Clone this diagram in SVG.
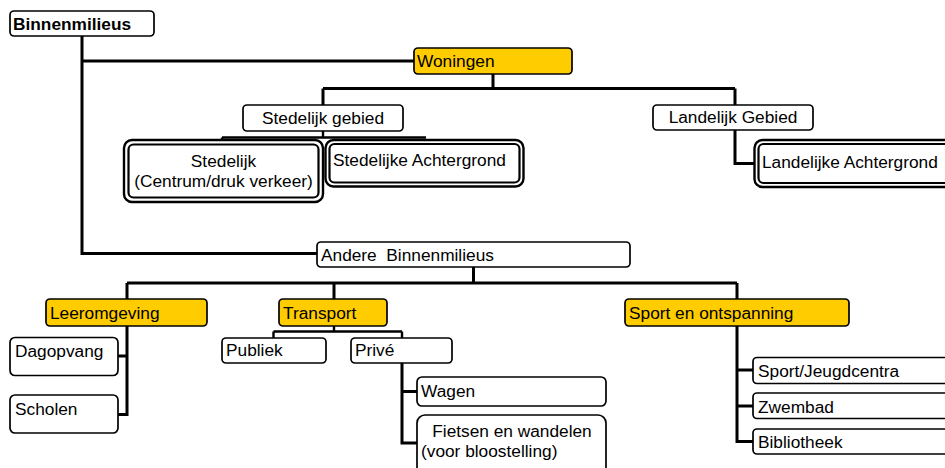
<svg xmlns="http://www.w3.org/2000/svg" width="945" height="468" viewBox="0 0 945 468">
<style>
.b{fill:#fff;stroke:#000;stroke-width:1.7}
.y{fill:#FFCC00;stroke:#000;stroke-width:1.7}
.d{fill:#fff;stroke:#000;stroke-width:2.4}
.di{fill:none;stroke:#000;stroke-width:2.2}
.c{fill:none;stroke:#000;stroke-width:3;stroke-linejoin:miter}
.c2{fill:none;stroke:#000;stroke-width:2.4}
text{font-family:"Liberation Sans",Arial,sans-serif;font-size:17.3px;fill:#000}
.m{text-anchor:middle}
</style>
<rect width="945" height="468" fill="#fff"/>
<g id="connectors">
<path class="c" d="M82 36V253.5H317"/>
<path class="c" d="M82 61H414"/>
<path class="c" d="M493 74V88.5M323 88.5H735M323 88.5V105M735 88.5V105"/>
<path class="c2" d="M323 131V137.5M222 137.5H426M222 137.5V141"/>
<path class="c" d="M735 130V163.5H755"/>
<path class="c" d="M473.5 267V283M127 283H737M127 283V299M334 283V299M737 283V299"/>
<path class="c" d="M127 326V414.5H118M127 356H118"/>
<path class="c2" d="M334 326V331.5M273.5 331.5H402M273.5 331.5V338M402 331.5V338"/>
<path class="c" d="M402 363V443H417M402 391.5H417"/>
<path class="c" d="M737 326V441.5H753M737 370H753M737 406H753"/>
</g>
<g id="binnenmilieus"><rect class="b" x="10" y="11" width="144" height="25" rx="4"/><text x="13" y="29.5" font-weight="bold">Binnenmilieus</text></g>
<g id="woningen"><rect class="y" x="414" y="48" width="158" height="26" rx="4"/><text x="417" y="67">Woningen</text></g>
<g id="stedelijk-gebied"><rect class="b" x="243" y="105" width="160" height="26" rx="4"/><text class="m" x="323" y="123.5">Stedelijk gebied</text></g>
<g id="landelijk-gebied"><rect class="b" x="653" y="105" width="160" height="25" rx="4"/><text class="m" x="733" y="123">Landelijk Gebied</text></g>
<g id="stedelijk"><rect class="d" x="124" y="140" width="199" height="62" rx="8"/><rect class="di" x="128.5" y="144.5" width="190" height="53" rx="5"/><text class="m" x="223.5" y="167">Stedelijk</text><text class="m" x="223.5" y="187">(Centrum/druk verkeer)</text></g>
<g id="stedelijke-achtergrond"><rect class="d" x="325.5" y="140" width="198" height="46.5" rx="8"/><rect class="di" x="329.5" y="144" width="190" height="38.5" rx="5"/><text x="333" y="166">Stedelijke Achtergrond</text></g>
<g id="landelijke-achtergrond"><rect class="d" x="754.5" y="140" width="200" height="47" rx="8"/><rect class="di" x="758.5" y="144" width="192" height="39" rx="5"/><text x="762" y="168">Landelijke Achtergrond</text></g>
<g id="andere"><rect class="b" x="317" y="242" width="313" height="25" rx="4"/><text x="321" y="260.5" xml:space="preserve">Andere  Binnenmilieus</text></g>
<g id="leeromgeving"><rect class="y" x="46" y="299" width="161" height="27" rx="4"/><text x="50" y="318.5">Leeromgeving</text></g>
<g id="dagopvang"><rect class="b" x="10" y="337.5" width="108" height="38" rx="5"/><text x="15" y="356.5">Dagopvang</text></g>
<g id="scholen"><rect class="b" x="10" y="395" width="108" height="38" rx="5"/><text x="15" y="415">Scholen</text></g>
<g id="transport"><rect class="y" x="279" y="299" width="108" height="27" rx="4"/><text x="283" y="319">Transport</text></g>
<g id="publiek"><rect class="b" x="222" y="338" width="104" height="25" rx="4"/><text x="226" y="356">Publiek</text></g>
<g id="prive"><rect class="b" x="351" y="338" width="101" height="25" rx="4"/><text x="355" y="356">Privé</text></g>
<g id="wagen"><rect class="b" x="417" y="377" width="189" height="29" rx="5"/><text x="421" y="396.5">Wagen</text></g>
<g id="fietsen"><rect class="b" x="417" y="415" width="189" height="60" rx="8"/><text class="m" x="512" y="436.5">Fietsen en wandelen</text><text x="421" y="456.5">(voor bloostelling)</text></g>
<g id="sport"><rect class="y" x="625" y="299" width="224" height="27" rx="4"/><text x="629" y="318.5">Sport en ontspanning</text></g>
<g id="sport-jeugd"><rect class="b" x="753" y="357.5" width="200" height="26" rx="4"/><text x="758" y="376.5">Sport/Jeugdcentra</text></g>
<g id="zwembad"><rect class="b" x="753" y="393" width="200" height="25.5" rx="4"/><text x="758" y="412.5">Zwembad</text></g>
<g id="bibliotheek"><rect class="b" x="753" y="429" width="200" height="25" rx="4"/><text x="758" y="447.5">Bibliotheek</text></g>
</svg>
